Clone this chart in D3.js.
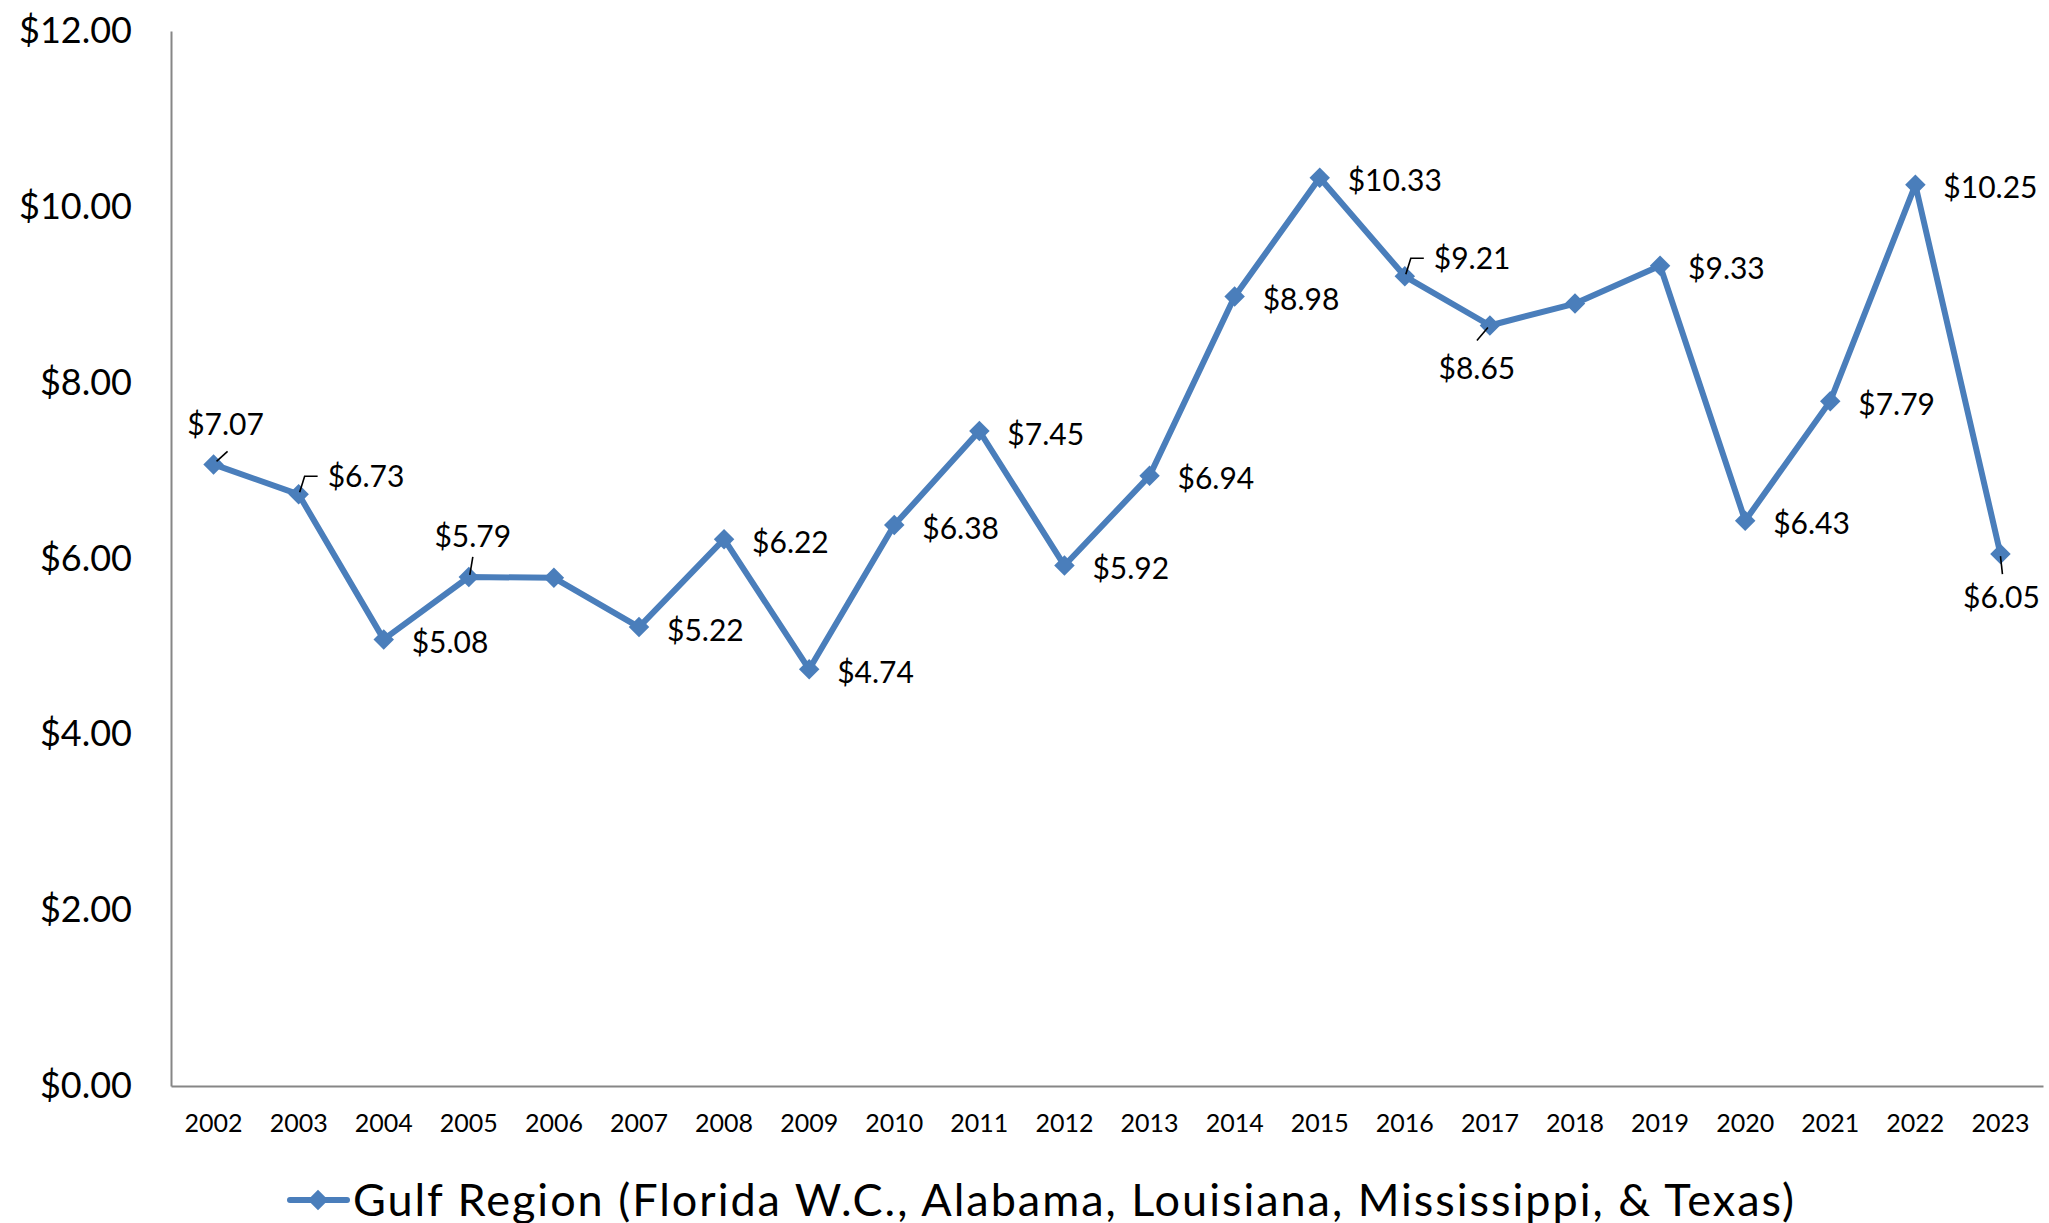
<!DOCTYPE html>
<html>
<head>
<meta charset="utf-8">
<script src="https://cdn.jsdelivr.net/npm/d3@7"></script>
<style>
  body { margin: 0; background: #fff; }
  svg text { font-family: Lato, Calibri, sans-serif; fill: #000; }
  .axis path { stroke: #868686; stroke-width: 2; }
</style>
</head>
<body>
<svg width="2049" height="1223"></svg>
<script>
// chart data
const years = ['2002', '2003', '2004', '2005', '2006', '2007', '2008', '2009', '2010', '2011', '2012',
    '2013', '2014', '2015', '2016', '2017', '2018', '2019', '2020', '2021', '2022', '2023'];
const prices = [7.07, 6.73, 5.08, 5.79, 5.78, 5.22, 6.22, 4.74, 6.38, 7.45, 5.92,
    6.94, 8.98, 10.33, 9.21, 8.65, 8.90, 9.33, 6.43, 7.79, 10.25, 6.05];
const yTicks = [0, 2, 4, 6, 8, 10, 12];
const unlabelled = ['2006', '2018'];
const seriesName = 'Gulf Region (Florida W.C., Alabama, Louisiana, Mississippi, & Texas)';

// how Excel placed a few of the data labels
const labelAbove = ['2002', '2005'];
const labelBelow = ['2017', '2023'];
const labelRaised = ['2003', '2016'];

const blue = '#4A7EBB';
const dataset = years.map((y, i) => ({ year: y, price: prices[i] }));

var svg = d3.select('svg');

//scales
var xScale = d3.scaleBand()
    .domain(years)
    .range([171, 2043]);

var yScale = d3.scaleLinear()
    .domain([0, 12])
    .range([1086, 31]);

const cx = d => xScale(d.year) + xScale.bandwidth() / 2;
const cy = d => yScale(d.price);

//y-axis
var yAxis = d3.axisLeft(yScale)
    .tickValues(yTicks)
    .tickFormat(d3.format('$.2f'))
    .tickSize(0)
    .tickSizeOuter(0)
    .tickPadding(39);

svg.append('g')
    .attr('class', 'y axis')
    .attr('transform', 'translate(171,0)')
    .call(yAxis)
    .selectAll('text')
    .style('font-size', '36px');

//x-axis
var xAxis = d3.axisBottom(xScale)
    .tickSize(0)
    .tickSizeOuter(0)
    .tickPadding(28);

svg.append('g')
    .attr('class', 'x axis')
    .attr('transform', 'translate(0,1086)')
    .call(xAxis)
    .selectAll('text')
    .style('font-size', '25px');

svg.selectAll('.axis text').style('font-family', 'Lato, Calibri, sans-serif').style('fill', '#000');

//line
var line = d3.line().x(cx).y(cy);

svg.append('path')
    .datum(dataset)
    .attr('d', line)
    .attr('fill', 'none')
    .attr('stroke', blue)
    .attr('stroke-width', 6)
    .attr('stroke-linejoin', 'round');

//diamond markers
var diamond = d3.symbol().type(d3.symbolSquare).size(210);

svg.selectAll('.marker')
    .data(dataset)
    .enter()
    .append('path')
    .attr('class', 'marker')
    .attr('d', diamond)
    .attr('fill', blue)
    .attr('transform', d => 'translate(' + [cx(d), cy(d)] + ') rotate(45)');

//data labels
var labelled = dataset.filter(d => !unlabelled.includes(d.year));
var fmt = d3.format('$.2f');

var labels = svg.selectAll('.dlabel')
    .data(labelled)
    .enter()
    .append('text')
    .attr('class', 'dlabel')
    .style('font-size', '30px')
    .attr('dy', '0.35em')
    .text(d => fmt(d.price))
    .each(function (d) {
        let t = d3.select(this);
        let x = cx(d), y = cy(d);
        if (labelAbove.includes(d.year)) {
            t.attr('x', x + (d.year === '2002' ? 12 : 4)).attr('y', y - 40).attr('text-anchor', 'middle');
        } else if (labelBelow.includes(d.year)) {
            t.attr('x', x + (d.year === '2017' ? -13 : 1)).attr('y', y + 43).attr('text-anchor', 'middle');
        } else if (labelRaised.includes(d.year)) {
            t.attr('x', x + 29).attr('y', y - 18);
        } else {
            t.attr('x', x + 28).attr('y', y + 3);
        }
    });

//leader lines
function leader(pts) {
    svg.append('path')
        .attr('d', d3.line()(pts))
        .attr('fill', 'none')
        .attr('stroke', '#000')
        .attr('stroke-width', 1.6);
}
dataset.forEach(d => {
    let x = cx(d), y = cy(d);
    if (d.year === '2002') leader([[x + 3, y - 3], [x + 14, y - 13]]);
    if (d.year === '2005') leader([[x + 1, y - 2], [x + 4, y - 20]]);
    if (d.year === '2017') leader([[x - 2, y + 2], [x - 13, y + 15]]);
    if (d.year === '2023') leader([[x, y + 2], [x + 2, y + 20]]);
    if (labelRaised.includes(d.year)) leader([[x + 1, y - 2], [x + 6, y - 18], [x + 19, y - 18]]);
});

//legend
var legend = svg.append('g')
    .attr('class', 'legend')
    .attr('transform', 'translate(0,1200)');

legend.append('line')
    .attr('x1', 290).attr('x2', 347)
    .attr('stroke', blue)
    .attr('stroke-width', 6)
    .attr('stroke-linecap', 'round');

legend.append('path')
    .attr('d', diamond)
    .attr('fill', blue)
    .attr('transform', 'translate(318,0) rotate(45)');

legend.append('text')
    .attr('x', 353)
    .attr('dy', '0.35em')
    .style('font-size', '45px')
    .attr('textLength', 1441)
    .attr('lengthAdjust', 'spacing')
    .text(seriesName);
</script>
</body>
</html>
